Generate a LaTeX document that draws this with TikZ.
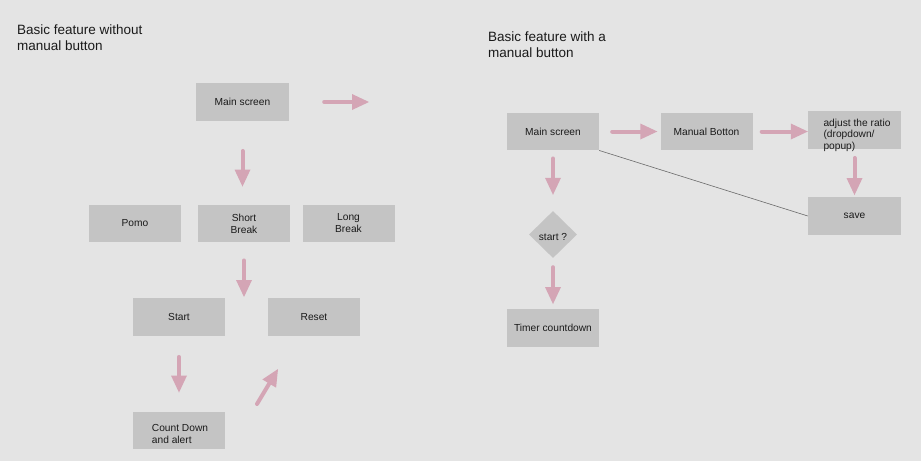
\documentclass[tikz,border=0pt]{standalone}
\usepackage{fontspec}
\setmainfont{Liberation Sans}
\usetikzlibrary{arrows.meta,shapes.geometric}
\definecolor{bg}{HTML}{E4E4E4}
\definecolor{boxfill}{HTML}{C4C4C4}
\definecolor{pinkarrow}{HTML}{D4A5B5}
\definecolor{txt}{HTML}{1A1A1A}
\definecolor{thinline}{HTML}{6A6A6A}
\tikzset{
  box/.style={fill=boxfill, minimum width=92pt, minimum height=37.5pt, inner sep=0pt,
    font=\fontsize{10.2}{12}\selectfont, text=txt, align=center},
  decision/.style={diamond, fill=boxfill, minimum width=48pt, minimum height=47pt, inner sep=0pt,
    font=\fontsize{10.2}{12}\selectfont, text=txt, text height=12.5pt, text depth=1pt},
  title/.style={anchor=north west, inner sep=0pt, align=left, text=txt,
    font=\fontsize{13.5}{16}\selectfont},
  pinkarrow/.style={draw=pinkarrow, line width=4pt, line cap=round,
    -{Triangle[length=17pt,width=16pt,line width=0pt]}},
  thin/.style={draw=thinline, line width=0.6pt}
}
\begin{document}
\begin{tikzpicture}[x=1pt,y=-1pt]
\fill[bg] (0,0) rectangle (921,461);
\useasboundingbox (0,0) rectangle (921,461);

% titles
\node[title] (t1) at (17,24.5) {Basic feature without\\manual button};
\node[title] (t2) at (488,31.5) {Basic feature with a\\manual button};

% left diagram
\node[box, minimum width=93pt] (lmain) at (242.5,102) {Main screen};
\node[box] (pomo) at (135,223.5) {Pomo};
\node[box] (short) at (244,223.5) {Short\\Break};
\node[box] (long) at (348.5,223.5) {Long\\Break};
\node[box] (start) at (179,317) {Start};
\node[box] (reset) at (314,317) {Reset};
\node[box] (count) at (179,430.5) {};
\node[anchor=center, inner sep=0pt, align=left, text=txt, font=\fontsize{10.2}{12}\selectfont] (counttext) at (180,433.5) {Count Down\\and alert};

\coordinate (a1e) at (369,102);
\coordinate (a3e) at (244,297);
\coordinate (a5s) at (257,404);
\coordinate (a5e) at (278,369);

\draw[pinkarrow, shorten <=35pt] (lmain.east) -- (a1e);
\draw[pinkarrow, shorten <=30pt, shorten >=18pt] (lmain.south) -- (lmain.south |- short.north);
\draw[pinkarrow, shorten <=18pt] (short.south) -- (a3e);
\draw[pinkarrow, shorten <=21pt, shorten >=19pt] (start.south) -- (count.north);
\draw[pinkarrow] (a5s) -- (a5e);

% right diagram
\node[box] (rmain) at (553,131.5) {Main screen};
\node[box] (manual) at (706.5,131.5) {Manual Botton};
\node[box, minimum width=93pt] (adjust) at (854.5,130) {};
\node[anchor=center, inner sep=0pt, align=left, text=txt, font=\fontsize{10.2}{11.6}\selectfont] (adjusttext) at (857,135) {adjust the ratio\\(dropdown/\\popup)};
\node[box, minimum width=93pt] (save) at (854.5,216) {save};
\node[decision] (dec) at (553,234.5) {start ?};
\node[box] (timer) at (553,328) {Timer countdown};

\draw[pinkarrow, shorten <=13pt, shorten >=3pt] (rmain.east) -- (manual.west);
\draw[pinkarrow, shorten <=9pt] (manual.east) -- (manual.east -| adjust.west);
\draw[pinkarrow, shorten <=9pt, shorten >=2pt] (adjust.south) -- (save.north);
\draw[pinkarrow, shorten <=8pt, shorten >=16pt] (rmain.south) -- (dec.north);
\draw[pinkarrow, shorten <=9pt, shorten >=5pt] (dec.south) -- (timer.north);
\draw[thin] (rmain.south east) -- (save.west);
\end{tikzpicture}
\end{document}
